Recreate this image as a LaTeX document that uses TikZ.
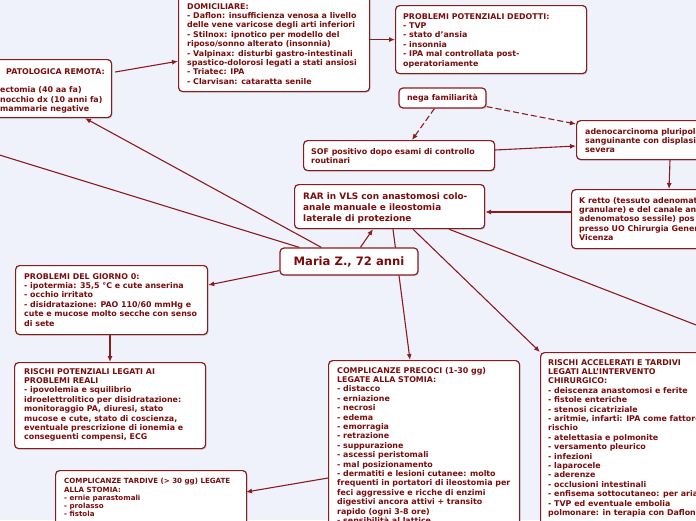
\documentclass[tikz,border=0pt]{standalone}
\usepackage{fontspec}
\setmainfont{DejaVu Sans}
\usetikzlibrary{arrows.meta,calc,shadows}
\definecolor{bgc}{RGB}{239,242,251}
\definecolor{bd}{RGB}{140,28,28}
\definecolor{tx}{RGB}{122,12,12}
\pgfdeclarelayer{bglayer}
\pgfsetlayers{bglayer,main}
\tikzset{
  box/.style={draw=bd, line width=1.2pt, fill=white, rounded corners=4pt, inner sep=0pt,
    drop shadow={shadow xshift=1pt, shadow yshift=-1.2pt, opacity=0.25}},
  txt/.style={anchor=north west, inner sep=0pt, align=left, text=tx,
    font=\bfseries\fontsize{7.9}{9.4}\selectfont},
  bigtxt/.style={txt, font=\bfseries\fontsize{8.9}{10.8}\selectfont},
  smalltxt/.style={txt, font=\bfseries\fontsize{7.1}{8.3}\selectfont},
  conn/.style={draw=bd, line width=1.1pt, -{Latex[length=6pt,width=5pt]}},
  plain/.style={draw=bd, line width=1.1pt},
  dashedconn/.style={conn, dash pattern=on 6pt off 3pt},
}
\begin{document}
\begin{tikzpicture}[x=1pt,y=-1pt]
\useasboundingbox (0,0) rectangle (696,520);
\clip (0,0) rectangle (696,520);
\begin{pgfonlayer}{bglayer}
\fill[bgc] (0,0) rectangle (696,520);
\end{pgfonlayer}

% boxes
\node[box, anchor=north west, minimum width=191pt, minimum height=121pt] (dom) at (178,-30) {};
\node[box, anchor=north west, minimum width=191pt, minimum height=68pt] (pot) at (395,5) {};
\node[box, anchor=north west, minimum width=151pt, minimum height=58pt] (pat) at (-40,59) {};
\node[box, minimum width=87pt, minimum height=20pt, text=tx, font=\bfseries\fontsize{7.9}{9.4}\selectfont] (nega) at (442.5,98) {nega familiarità};
\node[box, anchor=north west, minimum width=191pt, minimum height=30pt] (sof) at (303,140) {};
\node[box, anchor=north west, minimum width=164pt, minimum height=39pt] (adeno) at (576,120) {};
\node[box, anchor=north west, minimum width=169pt, minimum height=59pt] (kretto) at (571,189) {};
\node[box, anchor=north west, minimum width=190pt, minimum height=44pt] (rar) at (294,184) {};
\node[box, minimum width=138pt, minimum height=27pt, text=tx, font=\bfseries\fontsize{11.6}{14}\selectfont] (maria) at (349,261.5) {Maria Z., 72 anni};
\node[box, anchor=north west, minimum width=192pt, minimum height=69pt] (giorno) at (15,265) {};
\node[box, anchor=north west, minimum width=191pt, minimum height=86pt] (rpot) at (14,362) {};
\node[box, anchor=north west, minimum width=191pt, minimum height=200pt] (prec) at (328,360) {};
\node[box, anchor=north west, minimum width=200pt, minimum height=208pt] (acc) at (540,352) {};
\node[box, anchor=north west, minimum width=191pt, minimum height=90pt] (tard) at (55,470) {};

% texts
\node[txt] (domt) at (187,2.3) {\rule{0pt}{6.5pt}DOMICILIARE:\\
- Daflon: insufficienza venosa a livello\\
delle vene varicose degli arti inferiori\\
- Stilnox: ipnotico per modello del\\
riposo/sonno alterato (insonnia)\\
- Valpinax: disturbi gastro-intestinali\\
spastico-dolorosi legati a stati ansiosi\\
- Triatec: IPA\\
- Clarvisan: cataratta senile};
\node[txt] (pott) at (403,12.3) {\rule{0pt}{6.5pt}PROBLEMI POTENZIALI DEDOTTI:\\
- TVP\\
- stato d'ansia\\
- insonnia\\
- IPA mal controllata post-\\
operatoriamente};
\node[txt] (patt) at (0,67.3) {\rule{0pt}{6.5pt}\hspace*{6pt}PATOLOGICA REMOTA:\\[9.4pt]
ectomia (40 aa fa)\\
nocchio dx (10 anni fa)\\
mammarie negative};
\node[txt] (soft) at (311,147.3) {\rule{0pt}{6.5pt}SOF positivo dopo esami di controllo\\
routinari};
\node[txt] (adenot) at (585,127.3) {\rule{0pt}{6.5pt}adenocarcinoma pluripol\\
sanguinante con displasia\\
severa};
\node[txt] (krettot) at (579,196.3) {\rule{0pt}{6.5pt}K retto (tessuto adenomatoso\\
granulare) e del canale anale\\
adenomatoso sessile) pos\\
presso UO Chirurgia Generale\\
Vicenza};
\node[bigtxt] (rart) at (303,192) {\rule{0pt}{7.2pt}RAR in VLS con anastomosi colo-\\
anale manuale e ileostomia\\
laterale di protezione};
\node[txt] (giornot) at (24,272.3) {\rule{0pt}{6.5pt}PROBLEMI DEL GIORNO 0:\\
- ipotermia: 35,5 °C e cute anserina\\
- occhio irritato\\
- disidratazione: PAO 110/60 mmHg e\\
cute e mucose molto secche con senso\\
di sete};
\node[txt] (rpott) at (24,367.3) {\rule{0pt}{6.5pt}RISCHI POTENZIALI LEGATI AI\\
PROBLEMI REALI\\
- ipovolemia e squilibrio\\
idroelettrolitico per disidratazione:\\
monitoraggio PA, diuresi, stato\\
mucose e cute, stato di coscienza,\\
eventuale prescrizione di ionemia e\\
conseguenti compensi, ECG};
\node[txt] (prect) at (337,366.3) {\rule{0pt}{6.5pt}COMPLICANZE PRECOCI (1-30 gg)\\
LEGATE ALLA STOMIA:\\
- distacco\\
- erniazione\\
- necrosi\\
- edema\\
- emorragia\\
- retrazione\\
- suppurazione\\
- ascessi peristomali\\
- mal posizionamento\\
- dermatiti e lesioni cutanee: molto\\
frequenti in portatori di ileostomia per\\
feci aggressive e ricche di enzimi\\
digestivi ancora attivi + transito\\
rapido (ogni 3-8 ore)\\
- sensibilità al lattice};
\node[txt] (acct) at (548,358.3) {\rule{0pt}{6.5pt}RISCHI ACCELERATI E TARDIVI\\
LEGATI ALL'INTERVENTO\\
CHIRURGICO:\\
- deiscenza anastomosi e ferite\\
- fistole enteriche\\
- stenosi cicatriziale\\
- aritmie, infarti: IPA come fattore di\\
rischio\\
- atelettasia e polmonite\\
- versamento pleurico\\
- infezioni\\
- laparocele\\
- aderenze\\
- occlusioni intestinali\\
- enfisema sottocutaneo: per aria\\
- TVP ed eventuale embolia\\
polmonare: in terapia con Daflon};
\node[smalltxt] (tardt) at (64,477.7) {\rule{0pt}{5.8pt}COMPLICANZE TARDIVE (> 30 gg) LEGATE\\
ALLA STOMIA:\\
- ernie parastomali\\
- prolasso\\
- fistola};

% free ends
\coordinate (offr) at (740,342);
\coordinate (offl) at (-20,149);

% connectors
\begin{pgfonlayer}{bglayer}
\draw[conn] (dom.east |- pot.west) -- (pot.west);
\draw[conn] ($(pat.north east)+(3,13)$) -- ($(dom.south west)+(0,-31)$);
\draw[dashedconn] ($(nega.south west)+(36,0)$) -- ($(sof.north west)+(109,0)$);
\draw[dashedconn] ($(nega.south east)+(0,-2)$) -- ($(adeno.north west)+(0,4)$);
\draw[conn] ($(sof.north east)+(0,10)$) -- ($(adeno.north west)+(0,26)$);
\draw[conn] ($(adeno.south west)+(94,0)$) -- ($(kretto.north west)+(98,0)$);
\draw[conn] ($(kretto.north west)+(0,23)$) -- ($(rar.north east)+(0,28)$);
\draw[conn] ($(maria.north west)+(81,0)$) -- ($(rar.south west)+(79,0)$);
\draw[conn] ($(rar.south west)+(99,0)$) -- ($(prec.north west)+(82,0)$);
\draw[conn] ($(rar.south west)+(119,0)$) -- (acc.north west);
\draw[plain] ($(rar.south west)+(155,0)$) -- (offr);
\draw[conn] ($(maria.north west)+(42,0)$) -- ($(pat.south west)+(125,0)$);
\draw[plain] (offl) -- ($(maria.north west)+(20,0)$);
\draw[conn] ($(maria.south west)+(0,-5)$) -- ($(giorno.north east)+(0,20)$);
\draw[conn] ($(giorno.south west)+(95,0)$) -- ($(rpot.north west)+(96,0)$);
\draw[conn] ($(prec.north west)+(0,118)$) -- ($(tard.north west)+(191,22)$);
\end{pgfonlayer}
\end{tikzpicture}
\end{document}
